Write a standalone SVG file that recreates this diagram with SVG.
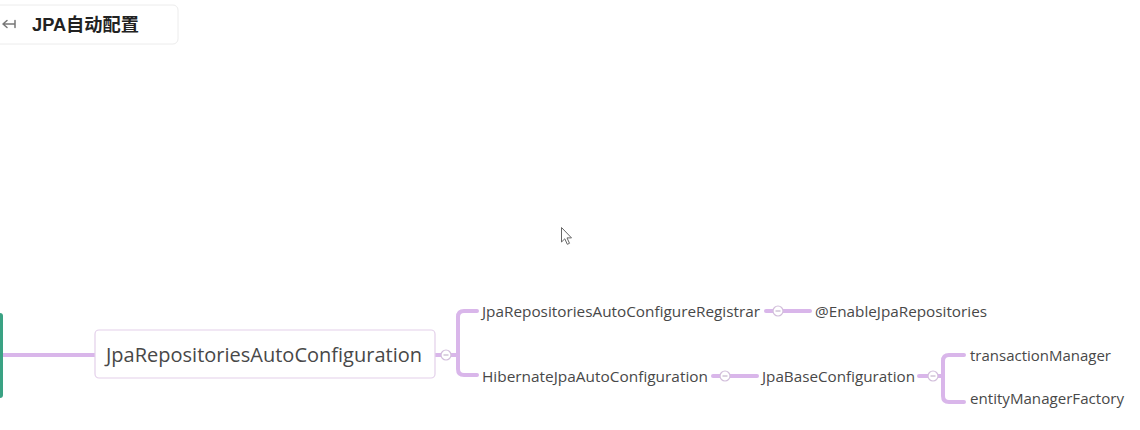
<svg xmlns="http://www.w3.org/2000/svg" width="1140" height="430" viewBox="0 0 1140 430">
<style>
.t1{font-family:"Open Sans","Liberation Sans",sans-serif;font-size:19.5px;fill:#484848}
.t2{font-family:"Open Sans","Liberation Sans",sans-serif;font-size:15px;fill:#484848}
.title{font-family:"Liberation Sans","Noto Sans CJK SC",sans-serif;font-size:18px;font-weight:bold;fill:#222}
.ln{fill:none;stroke:#d9b6ea;stroke-width:4;stroke-linecap:round;stroke-linejoin:round}
.col{fill:#fff;stroke:#d2bedb;stroke-width:1.2}
.minus{stroke:#b9a6c2;stroke-width:1}
</style>
<rect width="1140" height="430" fill="#fff"/>
<g id="header">
<rect x="-6" y="5" width="184" height="39" rx="5" fill="#fff" stroke="#ececec" stroke-width="1"/>
<path d="M3 24 H15 M3 24 L7 20.5 M3 24 L7 27.5 M15 20.5 V27.5" fill="none" stroke="#777" stroke-width="1.5" stroke-linecap="round"/>
<text class="title" x="32" y="31" textLength="107" lengthAdjust="spacingAndGlyphs">JPA自动配置</text>
</g>
<g id="connectors">
<line x1="3" y1="355" x2="95" y2="355" stroke="#d9b6ea" stroke-width="4"/>
<line x1="435" y1="355" x2="450" y2="355" stroke="#d9b6ea" stroke-width="4"/>
<path class="ln" d="M450 355 H458 M477 311 H464 Q458 311 458 317 V369 Q458 375 464 375 H477"/>
<path class="ln" d="M766 311 H810"/>
<path class="ln" d="M713 376 H757"/>
<path class="ln" d="M919 376 H943 M964 355 H949 Q943 355 943 361 V396 Q943 402 949 402 H964"/>
<g>
<circle class="col" cx="446" cy="355" r="5"/><line class="minus" x1="443.5" y1="355" x2="448.5" y2="355"/>
<circle class="col" cx="778" cy="311" r="5"/><line class="minus" x1="775.5" y1="311" x2="780.5" y2="311"/>
<circle class="col" cx="725" cy="376" r="5"/><line class="minus" x1="722.5" y1="376" x2="727.5" y2="376"/>
<circle class="col" cx="933" cy="376" r="5"/><line class="minus" x1="930.5" y1="376" x2="935.5" y2="376"/>
</g>
</g>
<g id="root">
<rect x="-10" y="313" width="13" height="85" rx="3" fill="#3aa283"/>
</g>
<g id="n-jpa-repos-auto-config">
<rect x="95" y="330" width="340" height="48" rx="4" fill="#fff" stroke="#e3d0ea" stroke-width="1.2"/>
<text class="t1" x="106" y="362" textLength="316" lengthAdjust="spacingAndGlyphs">JpaRepositoriesAutoConfiguration</text>
</g>
<g id="n-registrar"><text class="t2" x="482" y="317" textLength="278" lengthAdjust="spacingAndGlyphs">JpaRepositoriesAutoConfigureRegistrar</text></g>
<g id="n-enable"><text class="t2" x="815" y="317" textLength="172" lengthAdjust="spacingAndGlyphs">@EnableJpaRepositories</text></g>
<g id="n-hibernate"><text class="t2" x="482" y="382" textLength="226" lengthAdjust="spacingAndGlyphs">HibernateJpaAutoConfiguration</text></g>
<g id="n-base"><text class="t2" x="762" y="382" textLength="153" lengthAdjust="spacingAndGlyphs">JpaBaseConfiguration</text></g>
<g id="n-tm"><text class="t2" x="970" y="361" textLength="141" lengthAdjust="spacingAndGlyphs">transactionManager</text></g>
<g id="n-emf"><text class="t2" x="970" y="404" textLength="154" lengthAdjust="spacingAndGlyphs">entityManagerFactory</text></g>
<path d="M561.5 227.5 V242 L564.8 238.8 L567.3 244.3 L569.5 243.3 L567 237.9 L571.5 237.9 Z" fill="#fff" stroke="#666" stroke-width="1" stroke-linejoin="round"/>
</svg>
